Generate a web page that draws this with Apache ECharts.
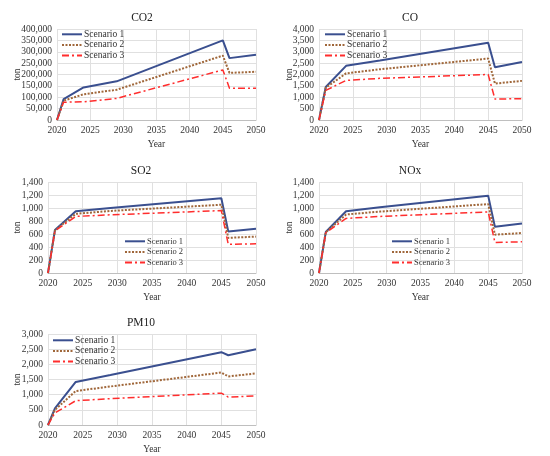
<!DOCTYPE html>
<html>
<head>
    <meta charset="UTF-8">
    <title>Emissions by scenario</title>
    <script src="https://cdn.jsdelivr.net/npm/echarts@6/dist/echarts.min.js"></script>
    <style>
        html, body { margin: 0; padding: 0; background: #fff; }
        #main { width: 550px; height: 456px; }
    </style>
</head>
<body>
    <div id="main"></div>
    <script type="text/javascript">
        // years where the lines change slope
        var years = [2020, 2021, 2024, 2029, 2045, 2046, 2050];
        var scenarios = ['Scenario 1', 'Scenario 2', 'Scenario 3'];

        // values (ton)
        var co2_s1 = [0, 92000, 143000, 170000, 350000, 272000, 287000];
        var co2_s2 = [0, 85000, 113000, 133000, 283000, 207000, 212000];
        var co2_s3 = [0, 78000, 80000, 95000, 220000, 140000, 140000];

        var co_s1 = [0, 1450, 2380, 2620, 3400, 2320, 2550];
        var co_s2 = [0, 1420, 2050, 2230, 2700, 1600, 1720];
        var co_s3 = [0, 1300, 1740, 1830, 2000, 920, 940];

        var so2_s1 = [0, 660, 950, 1000, 1150, 640, 680];
        var so2_s2 = [0, 655, 910, 955, 1050, 540, 560];
        var so2_s3 = [0, 650, 870, 895, 960, 440, 450];

        var nox_s1 = [0, 630, 950, 1010, 1190, 710, 760];
        var nox_s2 = [0, 625, 900, 945, 1060, 590, 615];
        var nox_s3 = [0, 620, 840, 870, 940, 470, 480];

        var pm10_s1 = [0, 550, 1420, 1650, 2400, 2300, 2500];
        var pm10_s2 = [0, 500, 1120, 1270, 1730, 1600, 1700];
        var pm10_s3 = [0, 400, 800, 870, 1050, 920, 960];

        var panels = [
            { title: 'CO2', data: [co2_s1, co2_s2, co2_s3], max: 400000, step: 50000,
              left: 57, top: 29, width: 199, nameGap: 35, titleX: 137,
              legendLeft: 61, legendTop: 29, legendFont: 9.5 },
            { title: 'CO', data: [co_s1, co_s2, co_s3], max: 4000, step: 500,
              left: 319, top: 29, width: 203, nameGap: 25, titleX: 405,
              legendLeft: 324, legendTop: 29, legendFont: 9.5 },
            { title: 'SO2', data: [so2_s1, so2_s2, so2_s3], max: 1400, step: 200,
              left: 48, top: 182, width: 208, nameGap: 26, titleX: 136,
              legendLeft: 124, legendTop: 236, legendFont: 8.5 },
            { title: 'NOx', data: [nox_s1, nox_s2, nox_s3], max: 1400, step: 200,
              left: 319, top: 182, width: 203, nameGap: 25, titleX: 405,
              legendLeft: 391, legendTop: 236, legendFont: 8.5 },
            { title: 'PM10', data: [pm10_s1, pm10_s2, pm10_s3], max: 3000, step: 500,
              left: 48, top: 334, width: 208, nameGap: 26, titleX: 136,
              legendLeft: 52, legendTop: 335, legendFont: 9.5 }
        ];

        var lineStyles = [
            { color: '#3A4F8F', width: 2, type: 'solid' },
            { color: '#A0673A', width: 2, type: [2, 1.5] },
            { color: '#FF2D2D', width: 1.5, type: [7, 3, 2, 3] }
        ];

        var font = "'Liberation Serif', 'Times New Roman', 'DejaVu Serif', serif";
        var gridH = 91;
        var tickSize = 9.5;

        function fmt(v) {
            return v.toLocaleString('en-US');
        }

        var option = {
            animation: false,
            textStyle: { fontFamily: font },
            title: [], legend: [], grid: [], xAxis: [], yAxis: [], series: []
        };

        panels.forEach(function (p, i) {
            option.title.push({
                text: p.title,
                left: p.titleX,
                top: p.top - 22,
                textAlign: 'center',
                textStyle: { fontFamily: font, fontSize: 11.5, fontWeight: 'normal', color: '#222' }
            });
            option.grid.push({ left: p.left, top: p.top, width: p.width, height: gridH });
            option.xAxis.push({
                type: 'value', gridIndex: i, min: 2020, max: 2050, interval: 5,
                name: 'Year', nameLocation: 'middle', nameGap: 19, nameMoveOverlap: false,
                nameTextStyle: { fontFamily: font, fontSize: tickSize, color: '#333' },
                axisLine: { lineStyle: { color: '#bfbfbf' } },
                axisTick: { show: false },
                axisLabel: { fontFamily: font, fontSize: tickSize, color: '#333', margin: 5,
                    formatter: function (v) { return String(v); } },
                splitLine: { show: true, lineStyle: { color: '#e0e0e0' } }
            });
            option.yAxis.push({
                type: 'value', gridIndex: i, min: 0, max: p.max, interval: p.step,
                name: 'ton', nameLocation: 'middle', nameRotate: 90,
                nameGap: p.nameGap, nameMoveOverlap: false,
                nameTextStyle: { fontFamily: font, fontSize: tickSize, color: '#333' },
                axisLine: { show: false },
                axisTick: { show: false },
                axisLabel: { fontFamily: font, fontSize: tickSize, color: '#333', margin: 5, formatter: fmt },
                splitLine: { show: true, lineStyle: { color: '#e0e0e0' } }
            });
            option.legend.push({
                data: scenarios, orient: 'vertical',
                left: p.legendLeft, top: p.legendTop,
                itemWidth: 20, itemHeight: 8, itemGap: 0, padding: 0,
                itemStyle: { opacity: 0 },
                textStyle: { fontFamily: font, fontSize: p.legendFont, lineHeight: 10.6, color: '#333',
                    padding: [0, 0, 0, -3] }
            });
            p.data.forEach(function (vals, k) {
                option.series.push({
                    name: scenarios[k], type: 'line',
                    xAxisIndex: i, yAxisIndex: i,
                    symbol: 'none',
                    color: lineStyles[k].color,
                    lineStyle: lineStyles[k],
                    data: years.map(function (y, j) { return [y, vals[j]]; })
                });
            });
        });

        var myChart = echarts.init(document.getElementById('main'));
        myChart.setOption(option);
    </script>
</body>
</html>
